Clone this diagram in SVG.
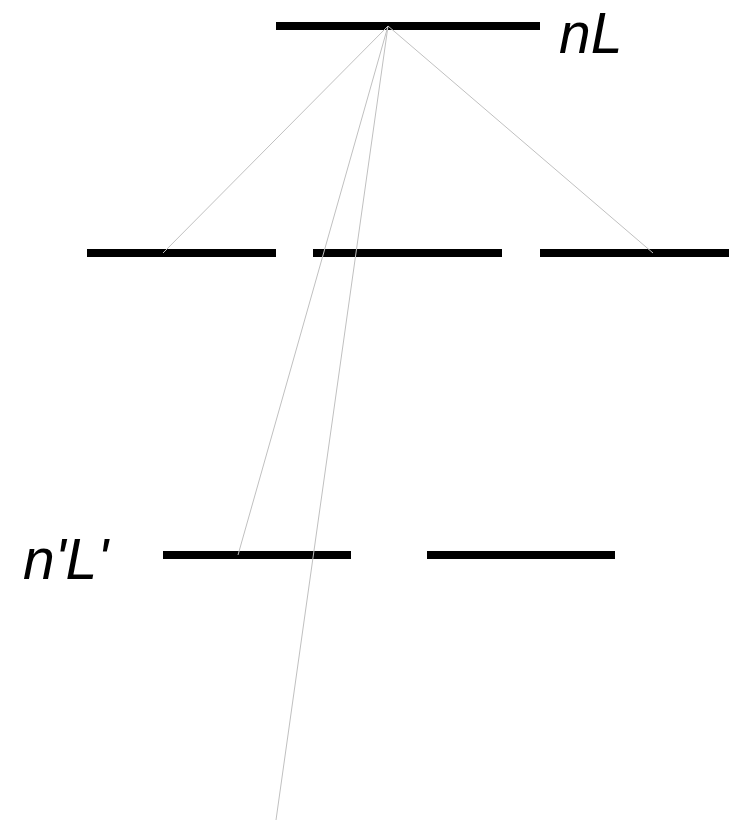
<svg xmlns="http://www.w3.org/2000/svg" width="741" height="820" viewBox="0 0 741 820">
  <style>
    .level { stroke: #000; stroke-width: 8; }
    .conn { stroke: #c0c0c0; stroke-width: 1; fill: none; }
    .label { font-family: "Liberation Sans", Arial, sans-serif; font-style: italic; font-size: 57px; fill: #000; }
  </style>
  <rect width="741" height="820" fill="#fff"/>

  <!-- upper level -->
  <g id="level-nL">
    <line class="level" x1="276" y1="26" x2="540" y2="26"/>
    <text class="label" x="559" y="53">nL</text>
  </g>

  <!-- intermediate levels -->
  <g id="level-mid-1"><line class="level" x1="87" y1="253" x2="276" y2="253"/></g>
  <g id="level-mid-2"><line class="level" x1="313" y1="253" x2="502" y2="253"/></g>
  <g id="level-mid-3"><line class="level" x1="540" y1="253" x2="729" y2="253"/></g>

  <!-- lower levels -->
  <g id="level-nL-prime">
    <line class="level" x1="163" y1="555" x2="351" y2="555"/>
    <text class="label" x="23" y="579">n'L'</text>
  </g>
  <g id="level-low-2"><line class="level" x1="427" y1="555" x2="615" y2="555"/></g>

  <!-- transitions from the upper level -->
  <g id="connectors">
    <line class="conn" x1="388" y1="26" x2="163" y2="253"/>
    <line class="conn" x1="388" y1="26" x2="653" y2="253"/>
    <line class="conn" x1="388" y1="26" x2="238" y2="555"/>
    <line class="conn" x1="388" y1="26" x2="276" y2="820"/>
  </g>
</svg>
